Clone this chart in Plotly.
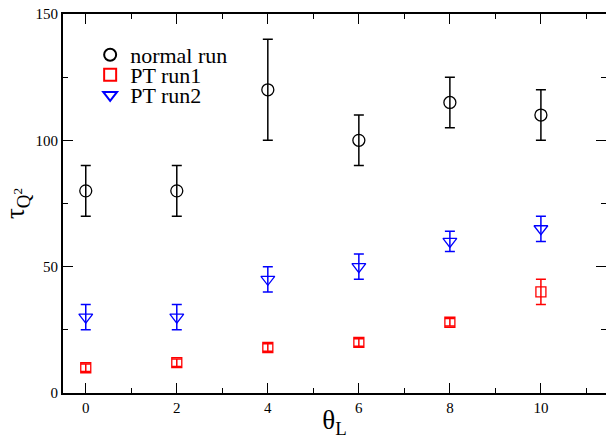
import plotly.graph_objects as go

theta = [0, 2, 4, 6, 8, 10]
normal = [80, 80, 120, 100, 115, 110]
normal_err = [10, 10, 20, 10, 10, 10]
run1 = [10, 12, 18, 20, 28, 40]
run1_err = [1.5, 1.5, 1.5, 1.5, 1.5, 5]
run2 = [30, 30, 45, 50, 60, 65]
run2_err = [5, 5, 5, 5, 4, 5]

FONT = "Liberation Serif"

fig = go.Figure()

def add(y, err, name, color, symbol, size, legend):
    fig.add_trace(go.Scatter(
        x=theta, y=y, mode="markers", name=name, legend=legend,
        marker=dict(symbol=symbol, size=size, color=color,
                    line=dict(color=color, width=1.3)),
        error_y=dict(type="data", array=err, visible=True, color=color,
                     thickness=1.5, width=5),
    ))

add(normal, normal_err, "normal run", "black", "circle-open", 12, "legend")
add(run1, run1_err, "PT run1", "red", "square-open", 10, "legend2")
add(run2, run2_err, "PT run2", "blue", "triangle-down-open", 12, "legend3")

# invisible trace on right axis for mirrored ticks
fig.add_trace(go.Scatter(x=[0], y=[0], yaxis="y2", mode="markers",
                         marker=dict(opacity=0), showlegend=False, hoverinfo="skip"))

def leg(y):
    return dict(x=0.05, y=y, xanchor="left", yanchor="middle",
                font=dict(family=FONT, size=22), bgcolor="rgba(0,0,0,0)",
                itemsizing="constant")

fig.update_layout(
    width=606, height=439,
    margin=dict(l=63, r=0, t=14, b=46),
    plot_bgcolor="white", paper_bgcolor="white",
    font=dict(family=FONT, color="black", size=15),
    showlegend=True,
    legend=leg(0.892),
    legend2=leg(0.839),
    legend3=leg(0.786),
    xaxis=dict(range=[-0.5, 11.43], tickvals=[0, 2, 4, 6, 8, 10],
               ticks="inside", ticklen=10, tickwidth=1, tickcolor="black",
               showline=True, linecolor="black", linewidth=2, mirror="ticks",
               showgrid=False, zeroline=False,
               minor=dict(dtick=1, tick0=0, ticks="inside", ticklen=5, tickcolor="black"),
               title=dict(text="θ<sub>L</sub>", font=dict(size=27, family=FONT), standoff=0),
               tickfont=dict(size=15, family=FONT)),
    yaxis=dict(range=[0, 150], tickvals=[0, 50, 100, 150],
               ticks="inside", ticklen=10, tickwidth=1, tickcolor="black",
               showline=True, linecolor="black", linewidth=2,
               showgrid=False, zeroline=False,
               minor=dict(dtick=25, tick0=0, ticks="inside", ticklen=5, tickcolor="black"),
               title=dict(text="τ<sub>Q<sup>2</sup></sub>", font=dict(size=27, family=FONT), standoff=6),
               tickfont=dict(size=15, family=FONT)),
    yaxis2=dict(range=[0, 150], overlaying="y", side="right", tickvals=[0, 50, 100, 150],
                ticks="inside", ticklen=10, tickcolor="black", showticklabels=False,
                showline=False, showgrid=False, zeroline=False,
                minor=dict(dtick=25, tick0=0, ticks="inside", ticklen=5, tickcolor="black")),
)

fig.write_html("out.html")
